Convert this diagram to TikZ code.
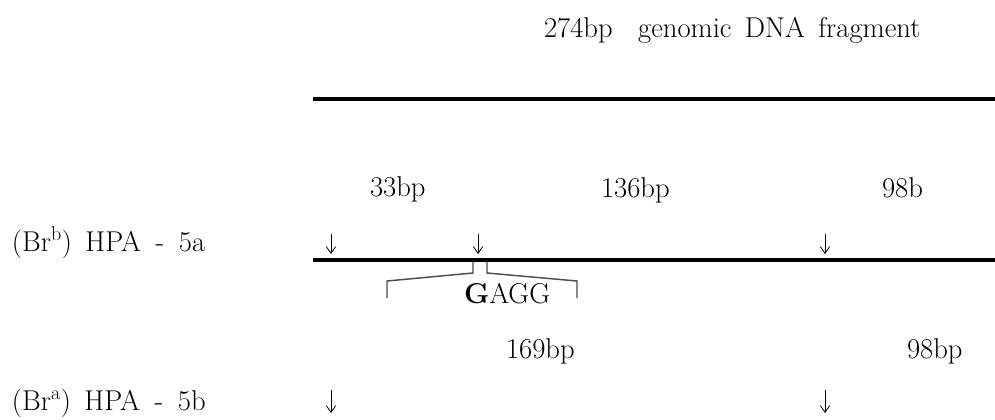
\documentclass[tikz,border=0pt]{standalone}
\usetikzlibrary{arrows.meta}
\begin{document}
\begin{tikzpicture}[x=0.75pt,y=-0.75pt,
  lbl/.style={anchor=base west,inner sep=0pt,outer sep=0pt,font=\fontsize{21.5}{25}\selectfont},
  dna/.style={line width=2.3pt,black},
  cut/.style={line width=0.6pt,-{Straight Barb[length=5pt,width=7pt,line width=0.6pt]}},
  brk/.style={line width=1.1pt,black!70}]
\useasboundingbox (0,0) rectangle (995,419);
% title
\node[lbl] (title) at (544,37) {274bp\hspace{19pt}genomic\hspace{10pt}DNA\hspace{10pt}fragment};
% genomic fragment line
\coordinate (g1) at (313,99);
\coordinate (g2) at (995,99);
\draw[dna] (g1) -- (g2);
% fragment sizes, allele b
\node[lbl] (s33) at (370,196) {33bp};
\node[lbl] (s136) at (601,197) {136bp};
\node[lbl] (s98a) at (882,197) {98b};
% label a
\node[lbl] (la) at (12,251) {(Br\textsuperscript{b})\hspace{10pt}HPA\hspace{11pt}-\hspace{11pt}5a};
% cut arrows, row a
\coordinate (a1t) at (331,234); \coordinate (a1b) at (331,254);
\coordinate (a2t) at (478,234); \coordinate (a2b) at (478,254);
\coordinate (a3t) at (825,234); \coordinate (a3b) at (825,254);
\draw[cut] (a1t) -- (a1b);
\draw[cut] (a2t) -- (a2b);
\draw[cut] (a3t) -- (a3b);
% line row a
\coordinate (r1) at (313,260);
\coordinate (r2) at (995,260);
\draw[dna] (r1) -- (r2);
% bracket
\coordinate (bl1) at (387,298); \coordinate (bl2) at (387,281);
\coordinate (bl3) at (473,273); \coordinate (bl4) at (473,262);
\coordinate (br1) at (577,298); \coordinate (br2) at (577,281);
\coordinate (br3) at (487,273); \coordinate (br4) at (487,262);
\draw[brk] (bl1) -- (bl2) -- (bl3) -- (bl4);
\draw[brk] (br1) -- (br2) -- (br3) -- (br4);
\node[lbl] (seq) at (464,303) {\textbf{G}AGG};
% fragment sizes, allele a
\node[lbl] (s169) at (506,358) {169bp};
\node[lbl] (s98b) at (907,358) {98bp};
% label b
\node[lbl] (lb) at (12,410) {(Br\textsuperscript{a})\hspace{10pt}HPA\hspace{11pt}-\hspace{11pt}5b};
% cut arrows, row b
\coordinate (b1t) at (331,390); \coordinate (b1b) at (331,413);
\coordinate (b2t) at (825,390); \coordinate (b2b) at (825,413);
\draw[cut] (b1t) -- (b1b);
\draw[cut] (b2t) -- (b2b);
\end{tikzpicture}
\end{document}
